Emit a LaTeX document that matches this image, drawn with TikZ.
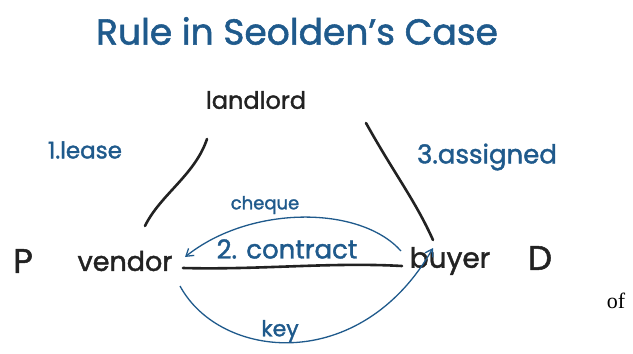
\documentclass[tikz,border=0pt]{standalone}
\usepackage{fontspec}
\setmainfont{Poppins}[FakeBold=1.5]
\newfontfamily\serif{Liberation Serif}
\usetikzlibrary{arrows.meta}
\definecolor{inkblue}{HTML}{1F5A8C}
\definecolor{inkblack}{HTML}{222222}
\tikzset{
  hand/.style={font=\fontsize{#1}{#1}\selectfont, inner sep=0pt, text=inkblack},
  bluehand/.style={font=\fontsize{#1}{#1}\selectfont, inner sep=0pt, text=inkblue},
  thickink/.style={draw=inkblack, line width=2.6pt, line cap=round},
  bluearrow/.style={draw=inkblue, line width=1.3pt, -{Straight Barb[length=7pt,width=9pt]}},
}
\begin{document}
\begin{tikzpicture}[x=1pt,y=-1pt]
\useasboundingbox[fill=white] (0,0) rectangle (633,354);
% title
\node[bluehand=36] (title) at (297,31) {Rule in Seolden's Case};
% nodes
\node[hand=24] (landlord) at (256,100) {landlord};
\node[hand=34] (P) at (23,261) {P};
\node[hand=27] (vendor) at (125,261) {vendor};
\node[hand=28] (buyer) at (450,261) {buyer};
\node[hand=34] (D) at (540,258) {D};
% labels
\node[bluehand=23] (lease) at (85,150) {1.lease};
\node[bluehand=26] (assigned) at (487,157) {3.assigned};
\node[bluehand=18] (cheque) at (265,205) {cheque};
\node[bluehand=26] (contract) at (287,249) {2. contract};
\node[bluehand=22] (key) at (280,331) {key};
\node[font=\serif\fontsize{22}{22}\selectfont, inner sep=0pt] (of) at (616,301) {of};
% connector end points
\coordinate (l1) at (207,139);
\coordinate (l2) at (145,226);
\coordinate (r1) at (366,123);
\coordinate (r2) at (433,240);
\coordinate (c1) at (183,268);
\coordinate (c2) at (402,266);
\coordinate (ch1) at (401,251);
\coordinate (ch2) at (185,257);
\coordinate (k1) at (180,286);
\coordinate (k2) at (433,248);
% connectors
\draw[thickink] (l1) .. controls (195,175) and (160,195) .. (l2);
\draw[thickink] (r1) .. controls (395,175) and (415,200) .. (r2);
\draw[thickink] (c1) .. controls (260,270) and (330,262) .. (c2);
\draw[bluearrow] (ch1) .. controls (360,205) and (250,205) .. (ch2);
\draw[bluearrow] (k1) .. controls (220,360) and (360,375) .. (k2);
\end{tikzpicture}
\end{document}
